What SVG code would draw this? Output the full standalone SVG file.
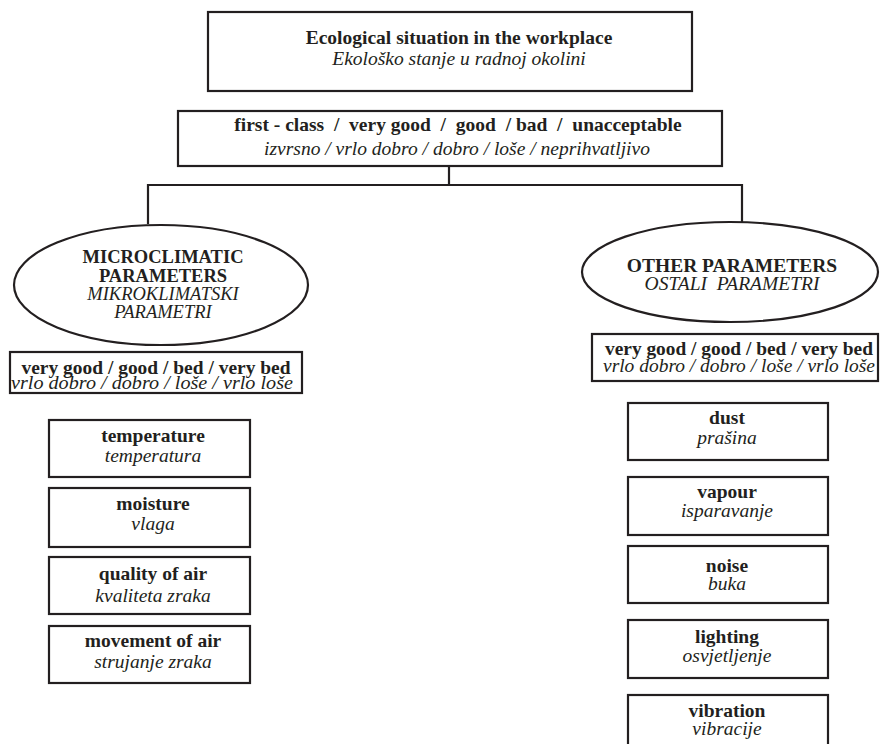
<svg xmlns="http://www.w3.org/2000/svg" width="880" height="744" viewBox="0 0 880 744">
<style>
.box{fill:#fff;stroke:#231f20;stroke-width:2.2}
.ln{fill:none;stroke:#231f20;stroke-width:2.2}
text{fill:#231f20;text-anchor:middle}
.b{font-weight:bold;font-size:19.5px}
.i{font-style:italic;font-size:19.5px}
.be{font-weight:bold;font-size:18.5px}
.ie{font-style:italic;font-size:18.5px}
.bl{font-weight:bold;font-size:18px}
.il{font-style:italic;font-size:18px}
</style>
<rect width="880" height="744" fill="#fff"/>
<g id="connectors">
<path class="ln" d="M449,166 V185 M148,224 V185 H742 V222"/>
</g>
<g font-family="Liberation Serif, Times New Roman, serif">
<g id="title">
<rect class="box" x="208" y="12" width="484" height="79"/>
<text class="b" x="459" y="44">Ecological situation in the workplace</text>
<text class="i" x="459" y="65">Ekološko stanje u radnoj okolini</text>
</g>
<g id="rating">
<rect class="box" x="178" y="111" width="544" height="55"/>
<text class="b" x="458" y="131" xml:space="preserve">first - class  /  very good  /  good  / bad  /  unacceptable</text>
<text class="i" x="457" y="155">izvrsno / vrlo dobro / dobro / loše / neprihvatljivo</text>
</g>
<g id="micro">
<ellipse class="box" cx="161" cy="285" rx="147" ry="60"/>
<text class="be" x="163" y="263">MICROCLIMATIC</text>
<text class="be" x="163" y="282">PARAMETERS</text>
<text class="ie" x="163" y="300">MIKROKLIMATSKI</text>
<text class="ie" x="163" y="318">PARAMETRI</text>
</g>
<g id="micro-rating">
<rect class="box" x="10" y="352" width="292" height="41"/>
<text class="bl" x="156" y="374" textLength="269" lengthAdjust="spacingAndGlyphs">very good / good / bed / very bed</text>
<text class="il" x="152" y="389" textLength="282" lengthAdjust="spacingAndGlyphs">vrlo dobro / dobro / loše / vrlo loše</text>
</g>
<g id="other">
<ellipse class="box" cx="730" cy="272" rx="148" ry="50"/>
<text class="b" x="732" y="272">OTHER PARAMETERS</text>
<text class="i" x="732" y="290" xml:space="preserve">OSTALI  PARAMETRI</text>
</g>
<g id="other-rating">
<rect class="box" x="592" y="334" width="286" height="47"/>
<text class="bl" x="739" y="355" textLength="268" lengthAdjust="spacingAndGlyphs">very good / good / bed / very bed</text>
<text class="il" x="739" y="372" textLength="272" lengthAdjust="spacingAndGlyphs">vrlo dobro / dobro / loše / vrlo loše</text>
</g>
<g id="temperature">
<rect class="box" x="49" y="420" width="201" height="57"/>
<text class="b" x="153" y="442">temperature</text>
<text class="i" x="153" y="462">temperatura</text>
</g>
<g id="moisture">
<rect class="box" x="49" y="488" width="201" height="59"/>
<text class="b" x="153" y="510">moisture</text>
<text class="i" x="153" y="530">vlaga</text>
</g>
<g id="quality">
<rect class="box" x="49" y="557" width="201" height="57"/>
<text class="b" x="153" y="580">quality of air</text>
<text class="i" x="153" y="602">kvaliteta zraka</text>
</g>
<g id="movement">
<rect class="box" x="49" y="626" width="201" height="57"/>
<text class="b" x="153" y="647">movement of air</text>
<text class="i" x="153" y="668">strujanje zraka</text>
</g>
<g id="dust">
<rect class="box" x="628" y="403" width="200" height="57"/>
<text class="b" x="727" y="424">dust</text>
<text class="i" x="727" y="444">prašina</text>
</g>
<g id="vapour">
<rect class="box" x="628" y="477" width="200" height="58"/>
<text class="b" x="727" y="498">vapour</text>
<text class="i" x="727" y="517">isparavanje</text>
</g>
<g id="noise">
<rect class="box" x="628" y="546" width="200" height="57"/>
<text class="b" x="727" y="572">noise</text>
<text class="i" x="727" y="590">buka</text>
</g>
<g id="lighting">
<rect class="box" x="628" y="620" width="200" height="58"/>
<text class="b" x="727" y="643">lighting</text>
<text class="i" x="727" y="662">osvjetljenje</text>
</g>
<g id="vibration">
<rect class="box" x="628" y="695" width="200" height="58"/>
<text class="b" x="727" y="717">vibration</text>
<text class="i" x="727" y="735">vibracije</text>
</g>
</g>
</svg>
